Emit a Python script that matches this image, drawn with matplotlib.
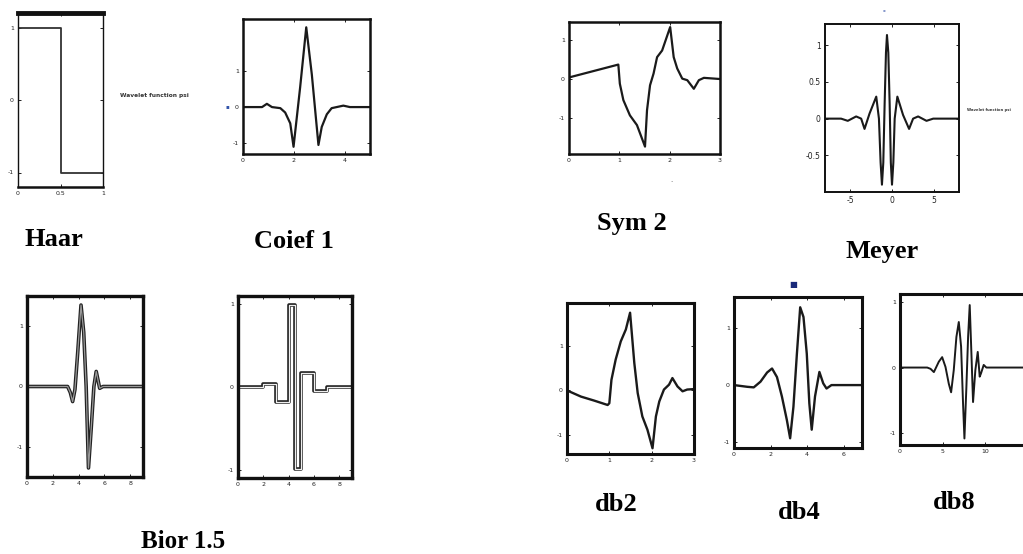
import matplotlib
matplotlib.use("Agg")
import matplotlib.pyplot as plt

W, H = 1023, 554

# --- wavelet curves ---
haar_x = [0, 0.5, 0.5, 1]
haar_y = [1, 1, -1, -1]

coif_x = [0, 0.75, 0.94, 1.14, 1.47, 1.66, 1.86, 1.99, 2.25, 2.49, 2.71, 2.97, 3.10, 3.30, 3.49, 3.95, 4.21, 5]
coif_y = [0, 0, 0.09, 0.0, -0.03, -0.15, -0.45, -1.1, 0.55, 2.21, 0.9, -1.05, -0.55, -0.2, -0.03, 0.04, 0, 0]

sym_x = [0, 0.98, 1.01, 1.08, 1.21, 1.35, 1.51, 1.55, 1.61, 1.68, 1.75, 1.85, 2.01, 2.08, 2.15, 2.25, 2.35, 2.48, 2.58, 2.68, 3.0]
sym_y = [0.03, 0.36, -0.13, -0.55, -0.94, -1.19, -1.74, -0.81, -0.17, 0.13, 0.55, 0.72, 1.32, 0.55, 0.26, 0, -0.04, -0.26, -0.04, 0.02, -0.01]

meyer_x = [-8, -6.7, -6.08, -5.28, -4.28, -3.68, -3.28, -2.68, -1.88, -1.56, -1.36, -1.2, -1.04,
           -0.88, -0.72, -0.6, -0.44, -0.28, -0.14, 0, 0.16, 0.32, 0.64, 1.32, 2.04, 2.52, 3.12, 4.12, 4.92, 8]
meyer_y = [0, 0, 0, -0.03, 0.03, 0, -0.14, 0.07, 0.3, 0.0, -0.6, -0.9, -0.6,
           0.2, 0.9, 1.14, 0.9, 0.2, -0.6, -0.9, -0.6, 0.0, 0.3, 0.05, -0.14, 0, 0.03, -0.03, 0, 0]

bior_d_x = [0, 3.15, 3.36, 3.54, 3.72, 3.93, 4.19, 4.4, 4.59, 4.77, 4.98, 5.19, 5.37, 5.64, 5.9, 9]
bior_d_y = [0, 0, -0.1, -0.25, -0.05, 0.55, 1.35, 0.9, 0.0, -1.35, -0.7, 0.0, 0.25, -0.03, 0, 0]

bior_r_x = [0, 2, 3, 4, 4.5, 5, 6, 7, 9]
bior_r_y = [0, 0.04, -0.18, 0.99, -0.99, 0.17, -0.05, 0, 0]

db2_x = [0, 0.33, 0.64, 0.96, 1.0, 1.05, 1.15, 1.27, 1.39, 1.49, 1.59, 1.67, 1.78, 1.9, 2.02, 2.1, 2.18, 2.29, 2.41, 2.49, 2.61, 2.73, 2.84, 3.0]
db2_y = [0, -0.14, -0.23, -0.33, -0.29, 0.24, 0.70, 1.11, 1.38, 1.76, 0.62, -0.06, -0.59, -0.89, -1.31, -0.59, -0.25, 0.02, 0.13, 0.28, 0.09, -0.02, 0.02, 0.03]

db4_x = [0, 0.72, 1.08, 1.45, 1.81, 2.08, 2.35, 2.62, 2.89, 3.07, 3.25, 3.44, 3.62, 3.8, 3.98, 4.12, 4.25, 4.43, 4.67, 4.88, 5.06, 5.33, 7]
db4_y = [0, -0.03, -0.04, 0.06, 0.22, 0.29, 0.14, -0.20, -0.61, -0.93, -0.38, 0.55, 1.36, 1.19, 0.55, -0.32, -0.78, -0.20, 0.23, 0.03, -0.06, 0, 0]

db8_x = [0, 3.19, 3.58, 3.97, 4.55, 4.94, 5.33, 5.72, 5.99, 6.3, 6.61, 6.89, 7.16, 7.39, 7.55, 7.78,
         7.98, 8.17, 8.37, 8.56, 8.83, 9.11, 9.34, 9.49, 9.81, 10.12, 15]
db8_y = [0, 0, -0.02, -0.07, 0.09, 0.16, 0.01, -0.25, -0.38, -0.04, 0.47, 0.7, 0.32, -0.56, -1.09, -0.3,
         0.47, 0.96, 0.21, -0.53, -0.04, 0.24, -0.14, -0.09, 0.04, 0, 0]

names = ["Haar", "Coief 1", "Sym 2", "Meyer", "Bior 1.5", "db2", "db4", "db8"]


def box(l, t, r, b):
    return fig.add_axes([l / W, 1 - b / H, (r - l) / W, (b - t) / H])


def style(ax, xlim, ylim, xt, yt, xtl=None, ytl=None, sp=1.8):
    ax.set_xlim(*xlim)
    ax.set_ylim(*ylim)
    ax.set_xticks(xt)
    ax.set_yticks(yt)
    ax.set_xticklabels(xtl if xtl else [str(v) for v in xt])
    ax.set_yticklabels(ytl if ytl else [str(v) for v in yt])
    ax.tick_params(direction="in", length=2, width=0.7, top=True, right=True,
                   labelsize=4.5, pad=3, colors="#222")
    for s in ax.spines.values():
        s.set_linewidth(sp)
        s.set_color("#111")


fig = plt.figure(figsize=(W / 100, H / 100), dpi=100)
fig.patch.set_facecolor("white")

lc = "#1a1a1a"

ax = box(18, 13, 103, 187)
ax.plot(haar_x, haar_y, color="#333", lw=1.3)
style(ax, (0, 1), (-1.2, 1.2), [0, 0.5, 1], [-1, 0, 1], ["0", "0.5", "1"])
ax.spines["top"].set_linewidth(3.5)
ax.spines["left"].set_linewidth(1.0)
ax.spines["right"].set_linewidth(1.0)

ax = box(243, 19, 370, 154)
ax.plot(coif_x, coif_y, color=lc, lw=1.6)
style(ax, (0, 5), (-1.3, 2.44), [0, 2, 4], [-1, 0, 1])

ax = box(569, 22, 720, 154)
ax.plot(sym_x, sym_y, color=lc, lw=1.6)
style(ax, (0, 3), (-1.93, 1.45), [0, 1, 2, 3], [-1, 0, 1])

ax = box(825, 24, 959, 192)
ax.plot(meyer_x, meyer_y, color=lc, lw=1.5)
style(ax, (-8, 8), (-1.0, 1.29), [-5, 0, 5], [-0.5, 0, 0.5, 1], ["-5", "0", "5"], ["-0.5", "0", "0.5", "1"], sp=1.4)
ax.tick_params(labelsize=5.5)

ax = box(27, 296, 143, 477)
ax.plot(bior_d_x, bior_d_y, color="#222", lw=2.6)
ax.plot(bior_d_x, bior_d_y, color="#999", lw=0.9)
style(ax, (0, 9), (-1.5, 1.5), [0, 2, 4, 6, 8], [-1, 0, 1], sp=2.4)

ax = box(238, 296, 352, 478)
ax.step(bior_r_x, bior_r_y, where="post", color="#222", lw=2.6)
ax.step(bior_r_x, bior_r_y, where="post", color="#eee", lw=0.9)
style(ax, (0, 9), (-1.1, 1.1), [0, 2, 4, 6, 8], [-1, 0, 1], sp=2.4)

ax = box(567, 303, 694, 454)
ax.plot(db2_x, db2_y, color=lc, lw=1.7)
style(ax, (0, 3), (-1.44, 1.98), [0, 1, 2, 3], [-1, 0, 1], sp=2.2)

ax = box(734, 297, 862, 448)
ax.plot(db4_x, db4_y, color=lc, lw=1.7)
style(ax, (0, 7), (-1.1, 1.54), [0, 2, 4, 6], [-1, 0, 1], sp=2.2)

# db8 box runs past the right edge of the picture, as in the original
ax = box(900, 294, 1028, 445)
ax.plot(db8_x, db8_y, color=lc, lw=1.4)
style(ax, (0, 15), (-1.19, 1.13), [0, 5, 10, 15], [-1, 0, 1], ["0", "5", "10", ""], sp=2.2)

# captions
lab_x = [54, 294, 632, 882, 183, 616, 799, 954]
lab_y = [246, 248, 230, 258, 548, 511, 519, 509]
lab_fs = [19, 19, 19, 19, 18, 19, 19, 19]
for n, x, y, fs in zip(names, lab_x, lab_y, lab_fs):
    fig.text(x / W, 1 - y / H, n, ha="center", va="baseline", fontsize=fs,
             fontweight="bold", family="Liberation Serif")

fig.text(154 / W, 1 - 95 / H, "Wavelet function psi", ha="center", va="center",
         fontsize=4.2, fontweight="bold", color="#333", family="Liberation Sans Narrow")
fig.text(967 / W, 1 - 110 / H, "Wavelet function psi", ha="left", va="center",
         fontsize=2.7, fontweight="bold", color="#333", family="Liberation Sans Narrow")

# stray marks in the original image
fig.text(227 / W, 1 - 107 / H, "\u25aa", color="#3355aa", fontsize=4, ha="center", va="center")
fig.text(793 / W, 1 - 285 / H, "\u25a0", color="#1a2a7a", fontsize=6, ha="center", va="center")
fig.text(884 / W, 1 - 10 / H, "\u25aa", color="#8899cc", fontsize=3, ha="center", va="center")
fig.text(671 / W, 1 - 180 / H, ".", color="#555", fontsize=5, ha="center", va="center")

fig.savefig("out.png", dpi=100)
